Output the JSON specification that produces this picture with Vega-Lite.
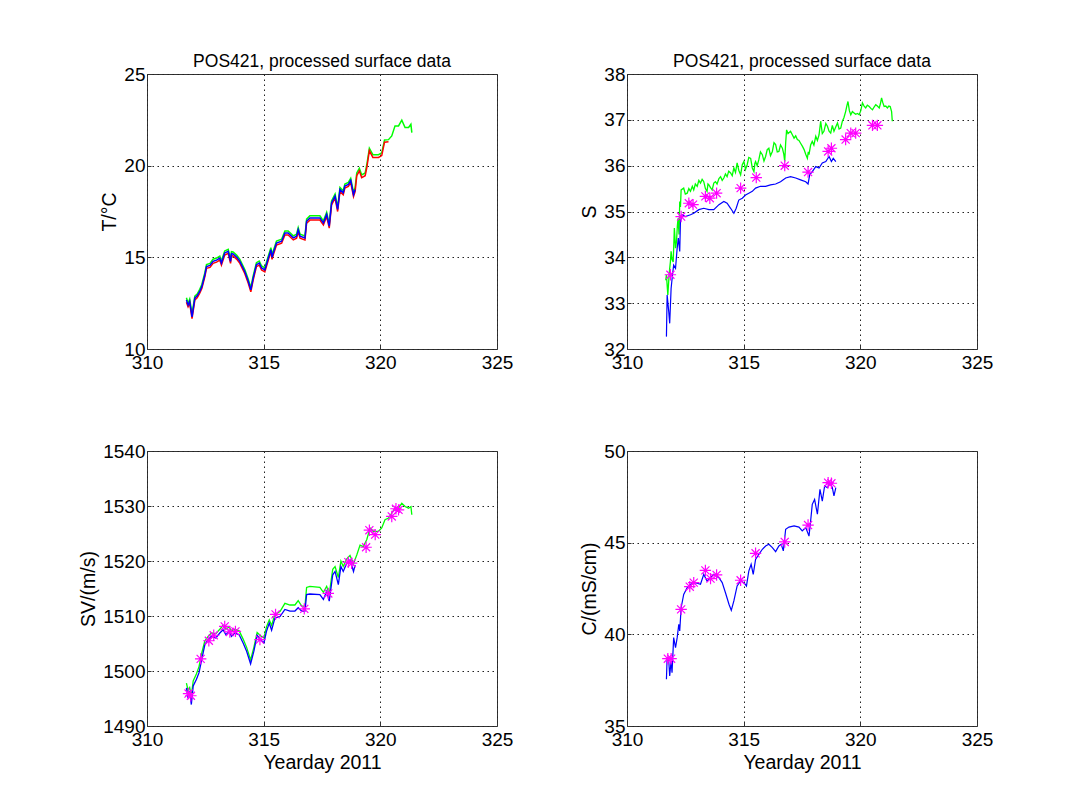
{
  "$schema": "https://vega.github.io/schema/vega-lite/v6.json",
  "background": "white",
  "padding": {"left": 78, "top": 52, "right": 5, "bottom": 5},
  "config": {
    "font": "Liberation Sans",
    "view": {"stroke": "#333333", "strokeWidth": 1},
    "axis": {
      "grid": true, "gridDash": [1.5, 3.5], "gridColor": "#222222", "gridOpacity": 1, "gridWidth": 1,
      "domain": false, "ticks": true, "tickSize": -4, "tickColor": "#333333",
      "labelFontSize": 19, "labelColor": "black", "labelFont": "Liberation Sans", "labelPadding": 6,
      "titleFontSize": 19.5, "titleFontWeight": "normal", "titleColor": "black", "titleFont": "Liberation Sans", "titlePadding": 4,
      "labelFlush": false, "labelOverlap": false, "format": "d"
    },
    "axisX": {"labelPadding": 8, "titlePadding": 4},
    "title": {"fontSize": 17.5, "fontWeight": "normal", "font": "Liberation Sans", "color": "black", "offset": -5}
  },
  "datasets": {
    "T": [
      {"d": 311.69, "b": 12.68, "r": 12.55, "g": 12.8},
      {"d": 311.76, "b": 12.4, "r": 12.3, "g": 12.5},
      {"d": 311.83, "b": 12.6, "r": 12.5, "g": 12.72},
      {"d": 311.93, "b": 11.75, "r": 11.65, "g": 11.9},
      {"d": 312.05, "b": 12.77, "r": 12.67, "g": 12.88},
      {"d": 312.15, "b": 12.9, "r": 12.8, "g": 13.0},
      {"d": 312.26, "b": 13.14, "r": 13.04, "g": 13.25},
      {"d": 312.35, "b": 13.4, "r": 13.3, "g": 13.52},
      {"d": 312.48, "b": 14.05, "r": 13.95, "g": 14.16},
      {"d": 312.55, "b": 14.5, "r": 14.4, "g": 14.6},
      {"d": 312.7, "b": 14.56, "r": 14.45, "g": 14.67},
      {"d": 312.83, "b": 14.78, "r": 14.67, "g": 14.9},
      {"d": 312.98, "b": 14.85, "r": 14.74, "g": 14.96},
      {"d": 313.12, "b": 14.96, "r": 14.85, "g": 15.07},
      {"d": 313.19, "b": 14.69, "r": 14.58, "g": 14.8},
      {"d": 313.33, "b": 15.24, "r": 15.13, "g": 15.35},
      {"d": 313.48, "b": 15.33, "r": 15.22, "g": 15.44},
      {"d": 313.58, "b": 14.78, "r": 14.67, "g": 14.9},
      {"d": 313.62, "b": 15.2, "r": 15.09, "g": 15.31},
      {"d": 313.69, "b": 15.18, "r": 15.07, "g": 15.29},
      {"d": 313.85, "b": 15.0, "r": 14.89, "g": 15.11},
      {"d": 313.98, "b": 14.78, "r": 14.67, "g": 14.89},
      {"d": 314.19, "b": 14.23, "r": 14.12, "g": 14.34},
      {"d": 314.34, "b": 13.69, "r": 13.58, "g": 13.8},
      {"d": 314.45, "b": 13.23, "r": 13.12, "g": 13.34},
      {"d": 314.55, "b": 13.87, "r": 13.76, "g": 13.98},
      {"d": 314.69, "b": 14.6, "r": 14.49, "g": 14.71},
      {"d": 314.81, "b": 14.69, "r": 14.58, "g": 14.8},
      {"d": 314.91, "b": 14.42, "r": 14.31, "g": 14.53},
      {"d": 315.05, "b": 14.32, "r": 14.21, "g": 14.43},
      {"d": 315.2, "b": 14.96, "r": 14.85, "g": 15.07},
      {"d": 315.31, "b": 15.42, "r": 15.31, "g": 15.53},
      {"d": 315.36, "b": 15.0, "r": 14.89, "g": 15.11},
      {"d": 315.41, "b": 15.24, "r": 15.13, "g": 15.35},
      {"d": 315.55, "b": 15.78, "r": 15.67, "g": 15.89},
      {"d": 315.77, "b": 15.88, "r": 15.77, "g": 15.99},
      {"d": 315.91, "b": 16.33, "r": 16.22, "g": 16.44},
      {"d": 316.05, "b": 16.33, "r": 16.22, "g": 16.44},
      {"d": 316.27, "b": 16.06, "r": 15.95, "g": 16.17},
      {"d": 316.41, "b": 16.15, "r": 16.04, "g": 16.26},
      {"d": 316.48, "b": 16.51, "r": 16.4, "g": 16.62},
      {"d": 316.56, "b": 16.15, "r": 16.04, "g": 16.26},
      {"d": 316.77, "b": 16.06, "r": 15.95, "g": 16.17},
      {"d": 316.84, "b": 16.97, "r": 16.86, "g": 17.08},
      {"d": 316.98, "b": 17.15, "r": 17.03, "g": 17.27},
      {"d": 317.41, "b": 17.15, "r": 17.03, "g": 17.27},
      {"d": 317.56, "b": 16.88, "r": 16.77, "g": 16.99},
      {"d": 317.7, "b": 17.34, "r": 17.23, "g": 17.45},
      {"d": 317.81, "b": 16.7, "r": 16.59, "g": 16.81},
      {"d": 317.91, "b": 17.97, "r": 17.86, "g": 18.08},
      {"d": 318.06, "b": 18.34, "r": 18.23, "g": 18.45},
      {"d": 318.17, "b": 17.61, "r": 17.5, "g": 17.72},
      {"d": 318.27, "b": 18.7, "r": 18.59, "g": 18.81},
      {"d": 318.41, "b": 18.52, "r": 18.41, "g": 18.63},
      {"d": 318.48, "b": 18.89, "r": 18.78, "g": 19.0},
      {"d": 318.63, "b": 18.98, "r": 18.87, "g": 19.09},
      {"d": 318.73, "b": 19.2, "r": 19.09, "g": 19.31},
      {"d": 318.85, "b": 18.43, "r": 18.32, "g": 18.54},
      {"d": 318.92, "b": 18.7, "r": 18.59, "g": 18.81},
      {"d": 318.99, "r": 19.45, "g": 19.6},
      {"d": 319.1, "r": 19.72, "g": 19.85},
      {"d": 319.2, "r": 19.35, "g": 19.5},
      {"d": 319.35, "r": 19.45, "g": 19.6},
      {"d": 319.42, "r": 19.9, "g": 20.05},
      {"d": 319.53, "r": 20.82, "g": 20.95},
      {"d": 319.68, "r": 20.45, "g": 20.6},
      {"d": 319.92, "r": 20.45, "g": 20.6},
      {"d": 320.06, "r": 20.55, "g": 20.7},
      {"d": 320.18, "r": 21.28, "g": 21.4},
      {"d": 320.35, "r": 21.3, "g": 21.42},
      {"d": 320.49, "g": 21.62},
      {"d": 320.63, "g": 22.17},
      {"d": 320.78, "g": 22.17},
      {"d": 320.92, "g": 22.48},
      {"d": 321.06, "g": 22.08},
      {"d": 321.21, "g": 22.08},
      {"d": 321.31, "g": 22.26},
      {"d": 321.35, "g": 21.8}
    ],
    "Sg": [
      {"d": 311.66, "v": 33.5}, {"d": 311.69, "v": 33.62}, {"d": 311.72, "v": 33.4}, {"d": 311.75, "v": 33.18},
      {"d": 311.79, "v": 33.5}, {"d": 311.83, "v": 33.76}, {"d": 311.86, "v": 33.9}, {"d": 311.89, "v": 34.13},
      {"d": 311.93, "v": 33.95}, {"d": 311.98, "v": 33.9}, {"d": 312.03, "v": 34.64}, {"d": 312.08, "v": 34.2},
      {"d": 312.12, "v": 34.34}, {"d": 312.16, "v": 34.7}, {"d": 312.19, "v": 34.85}, {"d": 312.23, "v": 34.5},
      {"d": 312.26, "v": 35.22}, {"d": 312.29, "v": 35.1}, {"d": 312.32, "v": 35.47}, {"d": 312.43, "v": 35.51},
      {"d": 312.5, "v": 35.38}, {"d": 312.58, "v": 35.4}, {"d": 312.65, "v": 35.5}, {"d": 312.72, "v": 35.44},
      {"d": 312.8, "v": 35.55}, {"d": 312.86, "v": 35.47}, {"d": 312.93, "v": 35.6}, {"d": 313.01, "v": 35.55},
      {"d": 313.08, "v": 35.68}, {"d": 313.15, "v": 35.62}, {"d": 313.22, "v": 35.7}, {"d": 313.29, "v": 35.65},
      {"d": 313.36, "v": 35.5}, {"d": 313.43, "v": 35.44}, {"d": 313.47, "v": 35.6}, {"d": 313.51, "v": 35.58},
      {"d": 313.58, "v": 35.52}, {"d": 313.65, "v": 35.47}, {"d": 313.72, "v": 35.62}, {"d": 313.79, "v": 35.65},
      {"d": 313.86, "v": 35.6}, {"d": 313.94, "v": 35.72}, {"d": 314.01, "v": 35.76}, {"d": 314.08, "v": 35.68},
      {"d": 314.15, "v": 35.73}, {"d": 314.22, "v": 35.82}, {"d": 314.29, "v": 35.76}, {"d": 314.36, "v": 35.88},
      {"d": 314.44, "v": 35.84}, {"d": 314.51, "v": 35.78}, {"d": 314.58, "v": 35.95}, {"d": 314.65, "v": 35.85},
      {"d": 314.72, "v": 36.06}, {"d": 314.79, "v": 35.9}, {"d": 314.87, "v": 35.8}, {"d": 314.94, "v": 36.02},
      {"d": 315.01, "v": 36.09}, {"d": 315.08, "v": 35.92}, {"d": 315.15, "v": 36.02}, {"d": 315.22, "v": 36.18},
      {"d": 315.3, "v": 36.16}, {"d": 315.37, "v": 35.95}, {"d": 315.44, "v": 35.87}, {"d": 315.48, "v": 36.05},
      {"d": 315.51, "v": 36.09}, {"d": 315.58, "v": 36.0}, {"d": 315.65, "v": 36.13}, {"d": 315.72, "v": 36.3},
      {"d": 315.8, "v": 36.24}, {"d": 315.87, "v": 36.1}, {"d": 315.94, "v": 36.2}, {"d": 316.01, "v": 36.35},
      {"d": 316.08, "v": 36.38}, {"d": 316.15, "v": 36.22}, {"d": 316.23, "v": 36.31}, {"d": 316.3, "v": 36.5},
      {"d": 316.37, "v": 36.46}, {"d": 316.44, "v": 36.3}, {"d": 316.51, "v": 36.31}, {"d": 316.58, "v": 36.45},
      {"d": 316.66, "v": 36.38}, {"d": 316.72, "v": 36.25}, {"d": 316.76, "v": 36.09}, {"d": 316.8, "v": 36.5},
      {"d": 316.84, "v": 36.78}, {"d": 316.9, "v": 36.7}, {"d": 317.01, "v": 36.75}, {"d": 317.08, "v": 36.68},
      {"d": 317.16, "v": 36.6}, {"d": 317.23, "v": 36.65}, {"d": 317.3, "v": 36.57}, {"d": 317.37, "v": 36.55},
      {"d": 317.44, "v": 36.49}, {"d": 317.52, "v": 36.42}, {"d": 317.59, "v": 36.35}, {"d": 317.66, "v": 36.25},
      {"d": 317.73, "v": 36.16}, {"d": 317.77, "v": 36.3}, {"d": 317.8, "v": 36.24}, {"d": 317.87, "v": 36.45},
      {"d": 317.94, "v": 36.53}, {"d": 318.01, "v": 36.45}, {"d": 318.09, "v": 36.64}, {"d": 318.16, "v": 36.55},
      {"d": 318.23, "v": 36.67}, {"d": 318.3, "v": 36.97}, {"d": 318.37, "v": 36.7}, {"d": 318.44, "v": 36.75},
      {"d": 318.52, "v": 36.92}, {"d": 318.59, "v": 36.86}, {"d": 318.66, "v": 36.75}, {"d": 318.73, "v": 36.71},
      {"d": 318.8, "v": 36.88}, {"d": 318.87, "v": 36.75}, {"d": 318.95, "v": 36.85}, {"d": 319.02, "v": 36.93},
      {"d": 319.09, "v": 36.8}, {"d": 319.16, "v": 36.82}, {"d": 319.23, "v": 36.97}, {"d": 319.3, "v": 37.05},
      {"d": 319.37, "v": 37.18}, {"d": 319.42, "v": 37.3}, {"d": 319.47, "v": 37.4}, {"d": 319.53, "v": 37.2},
      {"d": 319.59, "v": 37.11}, {"d": 319.66, "v": 37.18}, {"d": 319.73, "v": 37.15}, {"d": 319.8, "v": 37.12},
      {"d": 319.88, "v": 37.14}, {"d": 319.95, "v": 37.11}, {"d": 320.02, "v": 37.2}, {"d": 320.09, "v": 37.37},
      {"d": 320.16, "v": 37.3}, {"d": 320.23, "v": 37.26}, {"d": 320.3, "v": 37.32}, {"d": 320.38, "v": 37.29},
      {"d": 320.45, "v": 37.25}, {"d": 320.52, "v": 37.22}, {"d": 320.59, "v": 37.28}, {"d": 320.66, "v": 37.33},
      {"d": 320.73, "v": 37.3}, {"d": 320.81, "v": 37.26}, {"d": 320.86, "v": 37.35}, {"d": 320.91, "v": 37.48},
      {"d": 320.96, "v": 37.38}, {"d": 321.02, "v": 37.29}, {"d": 321.09, "v": 37.3}, {"d": 321.16, "v": 37.26},
      {"d": 321.22, "v": 37.3}, {"d": 321.28, "v": 37.29}, {"d": 321.34, "v": 37.18}, {"d": 321.37, "v": 36.97}
    ],
    "Sb": [
      {"d": 311.69, "v": 32.27}, {"d": 311.72, "v": 33.18}, {"d": 311.79, "v": 32.81}, {"d": 311.83, "v": 32.56},
      {"d": 311.89, "v": 33.32}, {"d": 311.95, "v": 33.62}, {"d": 312.0, "v": 33.83}, {"d": 312.08, "v": 33.76},
      {"d": 312.15, "v": 34.2}, {"d": 312.2, "v": 34.42}, {"d": 312.26, "v": 34.13}, {"d": 312.29, "v": 34.78},
      {"d": 312.36, "v": 34.93}, {"d": 312.5, "v": 34.89}, {"d": 312.72, "v": 34.93}, {"d": 312.86, "v": 34.96},
      {"d": 313.08, "v": 35.04}, {"d": 313.29, "v": 35.07}, {"d": 313.51, "v": 35.04}, {"d": 313.72, "v": 35.04},
      {"d": 313.94, "v": 35.15}, {"d": 314.15, "v": 35.22}, {"d": 314.29, "v": 35.18}, {"d": 314.44, "v": 35.07},
      {"d": 314.58, "v": 34.96}, {"d": 314.68, "v": 35.07}, {"d": 314.79, "v": 35.25}, {"d": 314.94, "v": 35.29},
      {"d": 315.08, "v": 35.36}, {"d": 315.22, "v": 35.4}, {"d": 315.37, "v": 35.44}, {"d": 315.51, "v": 35.51},
      {"d": 315.72, "v": 35.55}, {"d": 315.94, "v": 35.55}, {"d": 316.15, "v": 35.58}, {"d": 316.37, "v": 35.6},
      {"d": 316.58, "v": 35.65}, {"d": 316.8, "v": 35.73}, {"d": 317.01, "v": 35.76}, {"d": 317.23, "v": 35.73},
      {"d": 317.44, "v": 35.69}, {"d": 317.66, "v": 35.65}, {"d": 317.76, "v": 35.6}, {"d": 317.83, "v": 35.8},
      {"d": 317.94, "v": 35.87}, {"d": 318.09, "v": 35.98}, {"d": 318.23, "v": 35.95}, {"d": 318.37, "v": 36.06},
      {"d": 318.52, "v": 36.09}, {"d": 318.66, "v": 36.2}, {"d": 318.76, "v": 36.09}, {"d": 318.84, "v": 36.16},
      {"d": 318.95, "v": 36.09}
    ],
    "Ss": [
      {"d": 311.86, "v": 33.62}, {"d": 312.32, "v": 34.89}, {"d": 312.65, "v": 35.18}, {"d": 312.83, "v": 35.15},
      {"d": 313.36, "v": 35.33}, {"d": 313.55, "v": 35.29}, {"d": 313.84, "v": 35.4}, {"d": 314.87, "v": 35.51},
      {"d": 315.54, "v": 35.74}, {"d": 316.76, "v": 36.0}, {"d": 317.76, "v": 35.86}, {"d": 318.62, "v": 36.31},
      {"d": 318.76, "v": 36.38}, {"d": 319.37, "v": 36.57}, {"d": 319.59, "v": 36.71}, {"d": 319.8, "v": 36.71},
      {"d": 320.52, "v": 36.88}, {"d": 320.73, "v": 36.88}
    ],
    "SVb": [
      {"d": 311.69, "v": 1496.95}, {"d": 311.76, "v": 1495.1}, {"d": 311.83, "v": 1496.3}, {"d": 311.9, "v": 1493.9},
      {"d": 311.98, "v": 1497.3}, {"d": 312.12, "v": 1498.5}, {"d": 312.23, "v": 1499.7}, {"d": 312.33, "v": 1501.8},
      {"d": 312.48, "v": 1504.8}, {"d": 312.62, "v": 1505.7}, {"d": 312.76, "v": 1506.3}, {"d": 312.95, "v": 1506.0},
      {"d": 313.12, "v": 1506.9}, {"d": 313.26, "v": 1507.5}, {"d": 313.38, "v": 1506.6}, {"d": 313.52, "v": 1507.2},
      {"d": 313.62, "v": 1506.3}, {"d": 313.76, "v": 1506.9}, {"d": 313.95, "v": 1506.6}, {"d": 314.12, "v": 1505.1},
      {"d": 314.27, "v": 1503.6}, {"d": 314.44, "v": 1501.3}, {"d": 314.58, "v": 1503.6}, {"d": 314.72, "v": 1506.5},
      {"d": 314.87, "v": 1505.7}, {"d": 315.01, "v": 1505.1}, {"d": 315.12, "v": 1507.2}, {"d": 315.24, "v": 1508.7},
      {"d": 315.34, "v": 1507.4}, {"d": 315.48, "v": 1509.6}, {"d": 315.7, "v": 1509.9}, {"d": 315.91, "v": 1511.2},
      {"d": 316.13, "v": 1510.9}, {"d": 316.34, "v": 1510.9}, {"d": 316.48, "v": 1511.5}, {"d": 316.63, "v": 1510.9},
      {"d": 316.77, "v": 1510.9}, {"d": 316.84, "v": 1513.9}, {"d": 316.98, "v": 1514.0}, {"d": 317.41, "v": 1513.9},
      {"d": 317.56, "v": 1513.0}, {"d": 317.7, "v": 1514.5}, {"d": 317.81, "v": 1512.7}, {"d": 317.96, "v": 1517.5},
      {"d": 318.06, "v": 1518.1}, {"d": 318.2, "v": 1515.7}, {"d": 318.31, "v": 1519.0}, {"d": 318.41, "v": 1518.1},
      {"d": 318.56, "v": 1519.6}, {"d": 318.7, "v": 1520.2}, {"d": 318.85, "v": 1518.1}, {"d": 318.92, "v": 1519.3}
    ],
    "SVg": [
      {"d": 311.69, "v": 1497.8}, {"d": 311.76, "v": 1496.5}, {"d": 311.83, "v": 1497.0}, {"d": 311.9, "v": 1495.5},
      {"d": 311.98, "v": 1498.2}, {"d": 312.12, "v": 1499.5}, {"d": 312.23, "v": 1500.8}, {"d": 312.33, "v": 1503.0},
      {"d": 312.48, "v": 1505.5}, {"d": 312.62, "v": 1506.3}, {"d": 312.76, "v": 1506.9}, {"d": 312.95, "v": 1506.8},
      {"d": 313.12, "v": 1507.6}, {"d": 313.26, "v": 1508.3}, {"d": 313.38, "v": 1507.6}, {"d": 313.52, "v": 1508.0},
      {"d": 313.62, "v": 1507.3}, {"d": 313.76, "v": 1507.6}, {"d": 313.95, "v": 1507.3}, {"d": 314.12, "v": 1505.8},
      {"d": 314.27, "v": 1504.3}, {"d": 314.44, "v": 1502.0}, {"d": 314.58, "v": 1504.3}, {"d": 314.72, "v": 1507.0},
      {"d": 314.87, "v": 1506.4}, {"d": 315.01, "v": 1506.0}, {"d": 315.12, "v": 1508.0}, {"d": 315.24, "v": 1509.3},
      {"d": 315.34, "v": 1508.3}, {"d": 315.48, "v": 1510.3}, {"d": 315.7, "v": 1510.8}, {"d": 315.91, "v": 1512.3},
      {"d": 316.13, "v": 1512.0}, {"d": 316.34, "v": 1512.0}, {"d": 316.48, "v": 1512.8}, {"d": 316.63, "v": 1511.8},
      {"d": 316.77, "v": 1511.8}, {"d": 316.84, "v": 1515.2}, {"d": 316.98, "v": 1515.4}, {"d": 317.41, "v": 1515.2},
      {"d": 317.56, "v": 1514.3}, {"d": 317.7, "v": 1515.4}, {"d": 317.81, "v": 1514.0}, {"d": 317.96, "v": 1518.5},
      {"d": 318.06, "v": 1519.0}, {"d": 318.2, "v": 1517.0}, {"d": 318.31, "v": 1520.0}, {"d": 318.41, "v": 1519.0},
      {"d": 318.56, "v": 1520.4}, {"d": 318.7, "v": 1521.0}, {"d": 318.85, "v": 1519.5}, {"d": 318.92, "v": 1520.3},
      {"d": 318.99, "v": 1521.1}, {"d": 319.13, "v": 1522.9}, {"d": 319.27, "v": 1522.6}, {"d": 319.42, "v": 1523.9},
      {"d": 319.56, "v": 1526.0}, {"d": 319.7, "v": 1525.4}, {"d": 319.92, "v": 1525.4}, {"d": 320.06, "v": 1526.0},
      {"d": 320.2, "v": 1527.5}, {"d": 320.35, "v": 1527.8}, {"d": 320.49, "v": 1528.7}, {"d": 320.63, "v": 1529.6},
      {"d": 320.78, "v": 1529.6}, {"d": 320.92, "v": 1530.5}, {"d": 321.06, "v": 1529.9}, {"d": 321.21, "v": 1529.6},
      {"d": 321.31, "v": 1529.9}, {"d": 321.35, "v": 1528.4}
    ],
    "SVs": [
      {"d": 311.78, "v": 1495.9}, {"d": 311.88, "v": 1495.5}, {"d": 312.3, "v": 1502.2}, {"d": 312.65, "v": 1505.5},
      {"d": 312.86, "v": 1506.5}, {"d": 313.33, "v": 1508.1}, {"d": 313.55, "v": 1507.1}, {"d": 313.79, "v": 1507.2},
      {"d": 314.84, "v": 1505.7}, {"d": 315.51, "v": 1510.3}, {"d": 316.74, "v": 1511.3}, {"d": 317.77, "v": 1514.1},
      {"d": 318.63, "v": 1519.8}, {"d": 318.77, "v": 1519.6}, {"d": 319.39, "v": 1522.5}, {"d": 319.53, "v": 1525.6},
      {"d": 319.78, "v": 1524.8}, {"d": 320.49, "v": 1528.1}, {"d": 320.67, "v": 1529.5}, {"d": 320.78, "v": 1529.3}
    ],
    "Cb": [
      {"d": 311.69, "v": 37.55}, {"d": 311.72, "v": 38.73}, {"d": 311.79, "v": 38.55}, {"d": 311.83, "v": 37.73},
      {"d": 311.89, "v": 38.55}, {"d": 311.93, "v": 37.91}, {"d": 312.0, "v": 39.82}, {"d": 312.08, "v": 39.27},
      {"d": 312.15, "v": 39.82}, {"d": 312.22, "v": 40.55}, {"d": 312.26, "v": 40.18}, {"d": 312.32, "v": 41.45},
      {"d": 312.43, "v": 42.18}, {"d": 312.58, "v": 42.55}, {"d": 312.72, "v": 42.73}, {"d": 312.93, "v": 42.82},
      {"d": 313.15, "v": 42.73}, {"d": 313.29, "v": 43.27}, {"d": 313.43, "v": 42.91}, {"d": 313.58, "v": 43.09},
      {"d": 313.72, "v": 43.27}, {"d": 313.94, "v": 43.09}, {"d": 314.08, "v": 42.82}, {"d": 314.22, "v": 42.27},
      {"d": 314.37, "v": 41.64}, {"d": 314.47, "v": 41.31}, {"d": 314.58, "v": 41.82}, {"d": 314.72, "v": 42.64},
      {"d": 314.87, "v": 42.91}, {"d": 315.01, "v": 42.82}, {"d": 315.12, "v": 42.64}, {"d": 315.22, "v": 43.45},
      {"d": 315.32, "v": 43.82}, {"d": 315.41, "v": 43.27}, {"d": 315.51, "v": 44.09}, {"d": 315.65, "v": 44.36},
      {"d": 315.8, "v": 44.64}, {"d": 315.94, "v": 44.82}, {"d": 316.08, "v": 44.91}, {"d": 316.23, "v": 44.73},
      {"d": 316.37, "v": 44.51}, {"d": 316.51, "v": 44.82}, {"d": 316.61, "v": 44.91}, {"d": 316.7, "v": 44.55},
      {"d": 316.8, "v": 45.73}, {"d": 316.94, "v": 45.85}, {"d": 317.16, "v": 45.91}, {"d": 317.37, "v": 45.85},
      {"d": 317.51, "v": 45.64}, {"d": 317.66, "v": 45.82}, {"d": 317.8, "v": 45.36}, {"d": 317.87, "v": 46.18},
      {"d": 317.94, "v": 47.09}, {"d": 318.04, "v": 47.36}, {"d": 318.16, "v": 46.55}, {"d": 318.27, "v": 47.91},
      {"d": 318.37, "v": 47.27}, {"d": 318.47, "v": 48.09}, {"d": 318.59, "v": 48.0}, {"d": 318.7, "v": 48.27},
      {"d": 318.8, "v": 48.0}, {"d": 318.87, "v": 47.55}, {"d": 318.95, "v": 48.0}
    ],
    "Cs": [
      {"d": 311.75, "v": 38.67}, {"d": 311.89, "v": 38.67}, {"d": 312.32, "v": 41.36}, {"d": 312.69, "v": 42.6},
      {"d": 312.86, "v": 42.82}, {"d": 313.36, "v": 43.49}, {"d": 313.58, "v": 43.04}, {"d": 313.84, "v": 43.24},
      {"d": 314.87, "v": 42.95}, {"d": 315.51, "v": 44.42}, {"d": 316.76, "v": 45.04}, {"d": 317.76, "v": 45.96},
      {"d": 318.62, "v": 48.27}, {"d": 318.76, "v": 48.24}
    ]
  },
  "bounds": "flush",
  "columns": 2,
  "spacing": {"row": 102, "column": 130},
  "concat": [
    {
      "title": "POS421, processed surface data",
      "width": 350, "height": 275,
      "data": {"name": "T"},
      "encoding": {
        "x": {"field": "d", "type": "quantitative", "scale": {"domain": [310, 325], "nice": false, "zero": false},
              "axis": {"values": [310, 315, 320, 325], "title": null}}
      },
      "layer": [
        {"transform": [{"filter": "isValid(datum.g)"}],
         "mark": {"type": "line", "color": "#00ff00", "strokeWidth": 1.5},
         "encoding": {"y": {"field": "g", "type": "quantitative", "scale": {"domain": [10, 25], "nice": false, "zero": false},
                            "axis": {"values": [10, 15, 20, 25], "title": "T/°C"}}}},
        {"transform": [{"filter": "isValid(datum.r)"}],
         "mark": {"type": "line", "color": "#ff0000", "strokeWidth": 1.5},
         "encoding": {"y": {"field": "r", "type": "quantitative", "scale": {"domain": [10, 25], "nice": false, "zero": false},
                            "axis": {"values": [10, 15, 20, 25], "title": "T/°C"}}}},
        {"transform": [{"filter": "isValid(datum.b)"}],
         "mark": {"type": "line", "color": "#0000ff", "strokeWidth": 1.5},
         "encoding": {"y": {"field": "b", "type": "quantitative", "scale": {"domain": [10, 25], "nice": false, "zero": false},
                            "axis": {"values": [10, 15, 20, 25], "title": "T/°C"}}}}
      ]
    },
    {
      "title": "POS421, processed surface data",
      "width": 350, "height": 275,
      "encoding": {
        "x": {"field": "d", "type": "quantitative", "scale": {"domain": [310, 325], "nice": false, "zero": false},
              "axis": {"values": [310, 315, 320, 325], "title": null}},
        "y": {"field": "v", "type": "quantitative", "scale": {"domain": [32, 38], "nice": false, "zero": false},
              "axis": {"values": [32, 33, 34, 35, 36, 37, 38], "title": "S"}}
      },
      "layer": [
        {"data": {"name": "Sg"}, "mark": {"type": "line", "color": "#00ff00", "strokeWidth": 1.3}},
        {"data": {"name": "Sb"}, "mark": {"type": "line", "color": "#0000ff", "strokeWidth": 1.2}},
        {"data": {"name": "Ss"}, "mark": {"type": "point", "shape": "M-1,0H1M0,-1V1M-0.71,-0.71L0.71,0.71M-0.71,0.71L0.71,-0.71", "filled": false, "stroke": "#ff00ff", "strokeWidth": 1.2, "size": 130, "opacity": 1}}
      ]
    },
    {
      "width": 350, "height": 275,
      "encoding": {
        "x": {"field": "d", "type": "quantitative", "scale": {"domain": [310, 325], "nice": false, "zero": false},
              "axis": {"values": [310, 315, 320, 325], "title": "Yearday 2011"}},
        "y": {"field": "v", "type": "quantitative", "scale": {"domain": [1490, 1540], "nice": false, "zero": false},
              "axis": {"values": [1490, 1500, 1510, 1520, 1530, 1540], "title": "SV/(m/s)"}}
      },
      "layer": [
        {"data": {"name": "SVg"}, "mark": {"type": "line", "color": "#00ff00", "strokeWidth": 1.3}},
        {"data": {"name": "SVb"}, "mark": {"type": "line", "color": "#0000ff", "strokeWidth": 1.3}},
        {"data": {"name": "SVs"}, "mark": {"type": "point", "shape": "M-1,0H1M0,-1V1M-0.71,-0.71L0.71,0.71M-0.71,0.71L0.71,-0.71", "filled": false, "stroke": "#ff00ff", "strokeWidth": 1.2, "size": 130, "opacity": 1}}
      ]
    },
    {
      "width": 350, "height": 275,
      "encoding": {
        "x": {"field": "d", "type": "quantitative", "scale": {"domain": [310, 325], "nice": false, "zero": false},
              "axis": {"values": [310, 315, 320, 325], "title": "Yearday 2011"}},
        "y": {"field": "v", "type": "quantitative", "scale": {"domain": [35, 50], "nice": false, "zero": false},
              "axis": {"values": [35, 40, 45, 50], "title": "C/(mS/cm)"}}
      },
      "layer": [
        {"data": {"name": "Cb"}, "mark": {"type": "line", "color": "#0000ff", "strokeWidth": 1.2}},
        {"data": {"name": "Cs"}, "mark": {"type": "point", "shape": "M-1,0H1M0,-1V1M-0.71,-0.71L0.71,0.71M-0.71,0.71L0.71,-0.71", "filled": false, "stroke": "#ff00ff", "strokeWidth": 1.2, "size": 130, "opacity": 1}}
      ]
    }
  ]
}
